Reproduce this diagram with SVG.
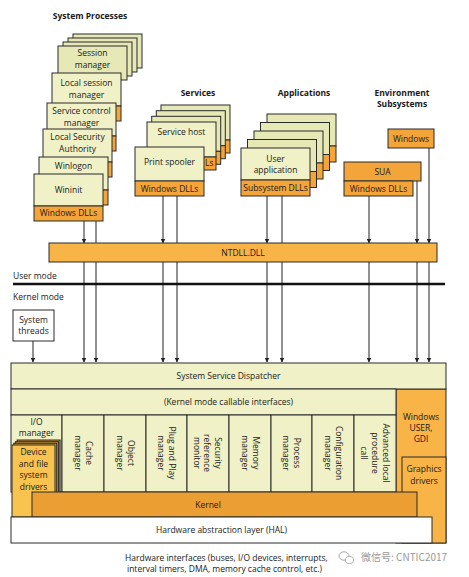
<svg xmlns="http://www.w3.org/2000/svg" width="469" height="577" viewBox="0 0 469 577">
<defs>
<marker id="ah" markerWidth="5" markerHeight="5" refX="4.5" refY="2.5" orient="auto" markerUnits="userSpaceOnUse">
<path d="M0,0 L5,2.5 L0,5 z" fill="#222"/>
</marker>
<style>
text{font-family:"Open Sans","Noto Sans","Liberation Sans",sans-serif;font-size:8.5px;fill:#1a1a1a;text-anchor:middle}
.t{font-weight:bold;font-size:8.5px}
.y{fill:#F0F1C6;stroke:#2a2a2a;stroke-width:1}
.yb{fill:#E6E8B6;stroke:#2a2a2a;stroke-width:1}
.o{fill:#F4A53A;stroke:#2a2a2a;stroke-width:1}
.ol{fill:#F8B447;stroke:#2a2a2a;stroke-width:1}
.od{fill:#EB9E31;stroke:#2a2a2a;stroke-width:1}
.dd{fill:#F9C34F;stroke:#2a2a2a;stroke-width:1}
.w{fill:#ffffff;stroke:#2a2a2a;stroke-width:1}
.c{stroke:#222;stroke-width:1;fill:none}
.ca{stroke:#222;stroke-width:1;fill:none;marker-end:url(#ah)}
.l{text-anchor:start}
.wm{font-family:"Noto Sans CJK SC","Noto Sans",sans-serif;font-size:10px;fill:#9a9a9a;text-anchor:start}
</style>
</defs>

<!-- titles -->
<text class="t" x="90" y="19">System Processes</text>
<text class="t" x="198" y="96">Services</text>
<text class="t" x="304" y="96">Applications</text>
<text class="t" x="402" y="96">Environment</text>
<text class="t" x="402" y="107">Subsystems</text>

<!-- connectors (behind boxes) -->
<g id="connectors">
<line class="ca" x1="84" y1="221" x2="84" y2="243"/>
<line class="ca" x1="84" y1="262" x2="84" y2="362"/>
<line class="ca" x1="96" y1="221" x2="96" y2="362"/>
<line class="ca" x1="163" y1="196" x2="163" y2="243"/>
<line class="ca" x1="163" y1="262" x2="163" y2="362"/>
<line class="ca" x1="177" y1="196" x2="177" y2="362"/>
<line class="ca" x1="267" y1="196" x2="267" y2="243"/>
<line class="ca" x1="267" y1="262" x2="267" y2="362"/>
<line class="ca" x1="282" y1="196" x2="282" y2="362"/>
<line class="ca" x1="369" y1="196" x2="369" y2="243"/>
<line class="ca" x1="369" y1="262" x2="369" y2="362"/>
<line class="ca" x1="417" y1="181" x2="417" y2="243"/>
<line class="ca" x1="417" y1="262" x2="417" y2="362"/>
<line class="ca" x1="429" y1="148" x2="429" y2="243"/>
<line class="ca" x1="429" y1="262" x2="429" y2="362"/>
<line class="ca" x1="33" y1="341" x2="33" y2="362"/>
</g>

<!-- System processes stack -->
<g id="session-manager">
<rect class="yb" x="73" y="34" width="69" height="34"/>
<rect class="yb" x="68" y="38" width="69" height="34"/>
<rect class="yb" x="63" y="42" width="69" height="34"/>
<rect class="yb" x="58" y="46" width="69" height="34"/>
<text x="92.5" y="56">Session</text>
<text x="92.5" y="68">manager</text>
</g>
<g id="local-session-manager">
<rect class="y" x="52" y="73" width="69" height="33"/>
<rect class="o" x="52" y="106" width="69" height="15"/>
<text x="86.5" y="86">Local session</text>
<text x="86.5" y="98">manager</text>
</g>
<g id="service-control-manager">
<rect class="y" x="47" y="103" width="69" height="33"/>
<rect class="o" x="47" y="136" width="69" height="15"/>
<text x="81.5" y="114">Service control</text>
<text x="81.5" y="126">manager</text>
</g>
<g id="lsa">
<rect class="y" x="43" y="129" width="69" height="33"/>
<rect class="o" x="43" y="162" width="69" height="15"/>
<text x="77.5" y="140">Local Security</text>
<text x="77.5" y="152">Authority</text>
</g>
<g id="winlogon">
<rect class="y" x="39" y="157" width="69" height="33"/>
<rect class="o" x="39" y="190" width="69" height="15"/>
<text x="73.5" y="169">Winlogon</text>
</g>
<g id="wininit">
<rect class="y" x="34" y="174" width="69" height="32"/>
<rect class="o" x="34" y="206" width="69" height="15"/>
<text x="68.5" y="193">Wininit</text>
<text x="68.5" y="216">Windows DLLs</text>
</g>

<!-- Services -->
<g id="service-host">
<rect class="yb" x="161" y="105" width="69" height="35"/><rect class="o" x="161" y="140" width="69" height="13"/>
<rect class="yb" x="156.3" y="110.7" width="69" height="35"/><rect class="o" x="156.3" y="145.7" width="69" height="13"/>
<rect class="yb" x="151.7" y="116.3" width="69" height="35"/><rect class="o" x="151.7" y="151.3" width="69" height="13"/>
<rect class="y" x="147" y="122" width="69" height="35"/>
<rect class="o" x="147" y="157" width="69" height="13"/>
<text x="181.5" y="135">Service host</text>
<text class="l" x="205" y="166">Ls</text>
</g>
<g id="print-spooler">
<rect class="y" x="135" y="147" width="69" height="34"/>
<rect class="o" x="135" y="181" width="69" height="15"/>
<text x="169.5" y="165">Print spooler</text>
<text x="169.5" y="192">Windows DLLs</text>
</g>

<!-- Applications -->
<g id="user-application">
<rect class="yb" x="267" y="114" width="69" height="32"/><rect class="o" x="267" y="146" width="69" height="16"/>
<rect class="yb" x="260.5" y="122.5" width="69" height="32"/><rect class="o" x="260.5" y="154.5" width="69" height="16"/>
<rect class="yb" x="254" y="131" width="69" height="32"/><rect class="o" x="254" y="163" width="69" height="16"/>
<rect class="yb" x="247.5" y="139.5" width="69" height="32"/><rect class="o" x="247.5" y="171.5" width="69" height="16"/>
<rect class="y" x="241" y="148" width="69" height="32"/>
<rect class="o" x="241" y="180" width="69" height="16"/>
<text x="275.5" y="162">User</text>
<text x="275.5" y="173">application</text>
<text x="275.5" y="191">Subsystem DLLs</text>
</g>

<!-- Environment subsystems -->
<g id="env-windows">
<rect class="o" x="388" y="129" width="46" height="19"/>
<text x="411" y="141.5">Windows</text>
</g>
<g id="sua">
<rect class="o" x="344" y="162" width="77" height="19"/>
<text x="382.5" y="174.5">SUA</text>
<rect class="o" x="344" y="181" width="69" height="15"/>
<text x="378.5" y="191.5">Windows DLLs</text>
</g>

<!-- NTDLL -->
<g id="ntdll">
<rect class="ol" x="49" y="243" width="388" height="19"/>
<text x="243" y="255.5">NTDLL.DLL</text>
</g>

<!-- mode boundary -->
<g id="mode-boundary">
<text class="l" x="13" y="279">User mode</text>
<line x1="13" y1="284" x2="445" y2="284" stroke="#111" stroke-width="2.5"/>
<text class="l" x="13" y="300">Kernel mode</text>
</g>

<g id="system-threads">
<rect class="w" x="13" y="310" width="41" height="31"/>
<text x="33.5" y="323">System</text>
<text x="33.5" y="334">threads</text>
</g>

<!-- Windows USER, GDI -->
<g id="windows-user-gdi">
<rect class="ol" x="396" y="389" width="50" height="154"/>
<text x="421" y="420">Windows</text>
<text x="421" y="431">USER,</text>
<text x="421" y="442">GDI</text>
</g>

<g id="dispatcher">
<rect class="y" x="11" y="363" width="435" height="26"/>
<text x="228.5" y="379">System Service Dispatcher</text>
</g>
<g id="callable-interfaces">
<rect class="y" x="11" y="389" width="385" height="26"/>
<text x="228.5" y="405">(Kernel mode callable interfaces)</text>
</g>

<g id="io-manager">
<rect class="y" x="11" y="415" width="51" height="77"/>
<text x="36.5" y="425">I/O</text>
<text x="36.5" y="436">manager</text>
</g>
<g id="cache-manager">
<rect class="y" x="62" y="415" width="42" height="77"/>
<text transform="translate(83,453) rotate(90)"><tspan x="0" y="-2.5">Cache</tspan><tspan x="0" y="8.5">manager</tspan></text>
</g>
<g id="object-manager">
<rect class="y" x="104" y="415" width="42" height="77"/>
<text transform="translate(125,453) rotate(90)"><tspan x="0" y="-2.5">Object</tspan><tspan x="0" y="8.5">manager</tspan></text>
</g>
<g id="pnp-manager">
<rect class="y" x="146" y="415" width="41" height="77"/>
<text transform="translate(166.5,453) rotate(90)"><tspan x="0" y="-2.5">Plug and Play</tspan><tspan x="0" y="8.5">manager</tspan></text>
</g>
<g id="security-reference-monitor">
<rect class="y" x="187" y="415" width="42" height="77"/>
<text transform="translate(207,453) rotate(90)"><tspan x="0" y="-7.5">Security</tspan><tspan x="0" y="3">reference</tspan><tspan x="0" y="13.5">monitor</tspan></text>
</g>
<g id="memory-manager">
<rect class="y" x="229" y="415" width="42" height="77"/>
<text transform="translate(250,453) rotate(90)"><tspan x="0" y="-2.5">Memory</tspan><tspan x="0" y="8.5">manager</tspan></text>
</g>
<g id="process-manager">
<rect class="y" x="271" y="415" width="41" height="77"/>
<text transform="translate(291.5,453) rotate(90)"><tspan x="0" y="-2.5">Process</tspan><tspan x="0" y="8.5">manager</tspan></text>
</g>
<g id="configuration-manager">
<rect class="y" x="312" y="415" width="42" height="77"/>
<text transform="translate(333,453) rotate(90)"><tspan x="0" y="-2.5">Configuration</tspan><tspan x="0" y="8.5">manager</tspan></text>
</g>
<g id="alpc">
<rect class="y" x="354" y="415" width="42" height="77"/>
<text transform="translate(375,453) rotate(90)"><tspan x="0" y="-8">Advanced local</tspan><tspan x="0" y="3">procedure</tspan><tspan x="0" y="14">call</tspan></text>
</g>

<g id="device-drivers">
<rect x="17.1" y="440" width="43" height="77" fill="#C98A2C" stroke="#2a2a2a" stroke-width="1"/>
<rect x="15.4" y="441.7" width="43" height="77" fill="#D99A35" stroke="#2a2a2a" stroke-width="1"/>
<rect x="13.7" y="443.3" width="43" height="77" fill="#E8AD40" stroke="#2a2a2a" stroke-width="1"/>
<rect class="dd" x="12" y="445" width="43" height="72"/>
<text x="33.5" y="455">Device</text>
<text x="33.5" y="466.5">and file</text>
<text x="33.5" y="478">system</text>
<text x="33.5" y="489.5">drivers</text>
</g>

<g id="graphics-drivers">
<rect class="ol" x="402" y="457" width="44" height="86"/>
<text x="424" y="472">Graphics</text>
<text x="424" y="484">drivers</text>
</g>

<g id="kernel">
<rect class="od" x="32" y="492" width="385" height="25"/>
<text x="208" y="507.5">Kernel</text>
</g>

<g id="hal">
<rect class="w" x="11" y="517" width="421" height="26"/>
<text x="221.5" y="533">Hardware abstraction layer (HAL)</text>
</g>

<g id="hardware-interfaces">
<text class="l" x="125" y="561">Hardware interfaces (buses, I/O devices, interrupts,</text>
<text class="l" x="127" y="572">interval timers, DMA, memory cache control, etc.)</text>
</g>

<g id="watermark">
<ellipse cx="344" cy="556" rx="5" ry="4.2" fill="none" stroke="#a0a0a0" stroke-width="0.9"/>
<ellipse cx="349.5" cy="560" rx="4.2" ry="3.5" fill="#fff" stroke="#a0a0a0" stroke-width="0.9"/>
<text class="wm" x="361" y="561">微信号: CNTIC2017</text>
</g>
</svg>
